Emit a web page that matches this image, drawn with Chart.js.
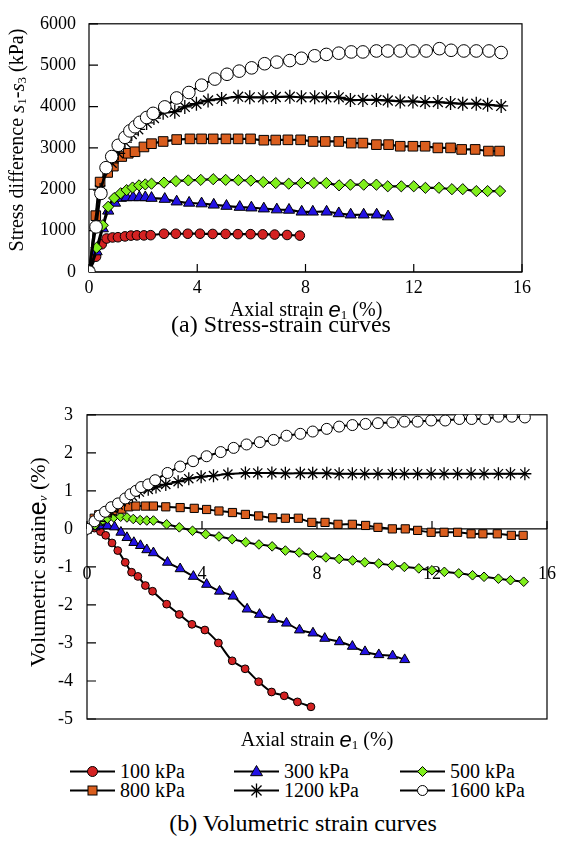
<!DOCTYPE html>
<html>
<head>
<meta charset="utf-8">
<script src="https://cdn.jsdelivr.net/npm/chart.js@4.4.1/dist/chart.umd.min.js"></script>
<style>
    body { margin: 0; background: #fff; }
    #wrap { position: relative; width: 561px; height: 841px; font-family: "Liberation Serif", "Times New Roman", serif; color: #000; }
    #chartA { position: absolute; left: 0; top: 0; }
    #chartB { position: absolute; left: 0; top: 390px; }
    .cap { position: absolute; font-size: 24px; white-space: nowrap; transform: translate(-50%, -50%); }
    .leg { position: absolute; font-size: 20px; display: flex; align-items: center; white-space: nowrap; transform: translateY(-50%); }
    .leg svg { margin-right: 5px; }
</style>
</head>
<body>
<div id="wrap">
    <canvas id="chartA" width="561" height="320"></canvas>
    <div class="cap" style="left:281px; top:324px;">(a) Stress-strain curves</div>
    <canvas id="chartB" width="561" height="360"></canvas>
    <div id="legend"></div>
    <div class="cap" style="left:303px; top:823px;">(b) Volumetric strain curves</div>
</div>
<script>
// Confining pressures
const seriesLabels = ['100 kPa', '300 kPa', '500 kPa', '800 kPa', '1200 kPa', '1600 kPa'];

// Axial strain (%) of each test
const x100 = [0, 0.26, 0.47, 0.65, 0.87, 1.07, 1.33, 1.55, 1.77, 2.03, 2.28, 2.77, 3.21, 3.65, 4.10, 4.57, 5.05, 5.50, 5.97, 6.42, 6.86, 7.32, 7.79];
const x300 = [0, 0.28, 0.51, 0.71, 0.96, 1.18, 1.39, 1.63, 1.86, 2.08, 2.31, 2.80, 3.24, 3.70, 4.16, 4.61, 5.08, 5.57, 6.00, 6.46, 6.94, 7.39, 7.86, 8.27, 8.78, 9.23, 9.67, 10.15, 10.63, 11.05];
const x500 = [0, 0.28, 0.51, 0.71, 0.93, 1.17, 1.39, 1.61, 1.85, 2.08, 2.31, 2.77, 3.21, 3.67, 4.13, 4.59, 5.05, 5.52, 5.98, 6.44, 6.90, 7.38, 7.85, 8.31, 8.77, 9.24, 9.66, 10.15, 10.62, 11.04, 11.54, 12.00, 12.43, 12.93, 13.41, 13.81, 14.31, 14.73, 15.19];
const x800 = [0, 0.25, 0.41, 0.69, 0.90, 1.21, 1.45, 1.70, 2.03, 2.31, 2.74, 3.24, 3.73, 4.16, 4.59, 5.06, 5.51, 5.97, 6.46, 6.90, 7.35, 7.82, 8.28, 8.73, 9.23, 9.69, 10.12, 10.62, 11.07, 11.50, 11.97, 12.42, 12.89, 13.36, 13.77, 14.27, 14.76, 15.17];
const x1200 = [0, 0.41, 0.84, 1.08, 1.33, 1.58, 1.82, 2.13, 2.40, 2.74, 3.17, 3.54, 3.97, 4.40, 4.90, 5.51, 5.94, 6.43, 6.90, 7.42, 7.85, 8.34, 8.77, 9.23, 9.66, 10.12, 10.62, 11.04, 11.50, 11.97, 12.42, 12.89, 13.36, 13.81, 14.31, 14.73, 15.23];
const x1600 = [0, 0.26, 0.44, 0.63, 0.84, 1.08, 1.33, 1.51, 1.70, 1.88, 2.13, 2.37, 2.80, 3.24, 3.69, 4.16, 4.65, 5.10, 5.55, 6.01, 6.49, 6.94, 7.42, 7.85, 8.34, 8.77, 9.23, 9.69, 10.12, 10.62, 11.04, 11.50, 11.97, 12.46, 12.95, 13.38, 13.85, 14.31, 14.78, 15.23];

// (a) stress difference (kPa)
const dev100 = [0, 370, 670, 810, 835, 840, 860, 880, 885, 885, 890, 925, 925, 925, 925, 920, 920, 915, 915, 910, 905, 895, 880];
const dev300 = [0, 494, 1051, 1478, 1670, 1787, 1803, 1803, 1803, 1803, 1787, 1763, 1700, 1670, 1654, 1624, 1594, 1570, 1555, 1531, 1508, 1500, 1455, 1455, 1455, 1415, 1385, 1385, 1385, 1340];
const dev500 = [0, 587, 1130, 1578, 1787, 1903, 1980, 2042, 2095, 2118, 2135, 2160, 2197, 2215, 2227, 2243, 2227, 2220, 2210, 2174, 2150, 2135, 2150, 2150, 2150, 2095, 2111, 2111, 2111, 2072, 2072, 2072, 2035, 2035, 2002, 2002, 1956, 1956, 1956];
const dev800 = [0, 1362, 2174, 2406, 2559, 2791, 2870, 2907, 3023, 3102, 3155, 3202, 3218, 3218, 3218, 3218, 3218, 3218, 3186, 3190, 3195, 3195, 3155, 3155, 3155, 3116, 3116, 3079, 3079, 3040, 3040, 3040, 3000, 3000, 2963, 2963, 2923, 2923];
const dev1200 = [0, 1980, 2638, 2870, 3139, 3334, 3450, 3604, 3720, 3852, 3875, 3991, 4068, 4146, 4184, 4239, 4223, 4223, 4230, 4239, 4223, 4223, 4223, 4223, 4160, 4160, 4160, 4146, 4123, 4123, 4107, 4107, 4084, 4068, 4068, 4044, 4014];
const dev1600 = [0, 1090, 1900, 2522, 2791, 3063, 3255, 3411, 3511, 3619, 3735, 3835, 3991, 4207, 4339, 4517, 4664, 4780, 4856, 4935, 5035, 5074, 5111, 5167, 5227, 5260, 5290, 5320, 5320, 5343, 5343, 5343, 5343, 5343, 5399, 5360, 5343, 5343, 5343, 5306];

// (b) volumetric strain (%)
const vol100 = [0, 0.02, -0.07, -0.17, -0.37, -0.57, -0.88, -1.14, -1.25, -1.49, -1.64, -1.98, -2.25, -2.51, -2.66, -3.00, -3.47, -3.68, -4.02, -4.29, -4.39, -4.55, -4.68];
const vol300 = [0, 0.05, 0.08, 0.08, 0.05, -0.09, -0.23, -0.36, -0.44, -0.55, -0.63, -0.88, -1.05, -1.25, -1.46, -1.64, -1.77, -2.11, -2.25, -2.38, -2.48, -2.66, -2.74, -2.88, -2.97, -3.09, -3.23, -3.31, -3.34, -3.44];
const vol500 = [0, 0.10, 0.20, 0.27, 0.30, 0.32, 0.30, 0.26, 0.23, 0.22, 0.22, 0.12, 0.04, -0.05, -0.14, -0.20, -0.27, -0.35, -0.41, -0.46, -0.57, -0.62, -0.70, -0.75, -0.79, -0.83, -0.88, -0.91, -0.96, -1.00, -1.04, -1.09, -1.13, -1.17, -1.22, -1.26, -1.31, -1.35, -1.39];
const vol800 = [0, 0.28, 0.37, 0.43, 0.48, 0.52, 0.58, 0.60, 0.60, 0.60, 0.58, 0.56, 0.54, 0.51, 0.47, 0.43, 0.38, 0.34, 0.29, 0.28, 0.28, 0.17, 0.17, 0.12, 0.12, 0.09, 0.04, 0, 0, -0.04, -0.09, -0.09, -0.09, -0.13, -0.13, -0.13, -0.17, -0.17];
const vol1200 = [0, 0.20, 0.45, 0.63, 0.76, 0.86, 0.97, 1.04, 1.10, 1.17, 1.24, 1.32, 1.37, 1.40, 1.44, 1.47, 1.47, 1.47, 1.46, 1.46, 1.46, 1.46, 1.45, 1.45, 1.45, 1.45, 1.45, 1.45, 1.45, 1.45, 1.45, 1.45, 1.45, 1.45, 1.45, 1.45, 1.45];
const vol1600 = [0, 0.20, 0.35, 0.45, 0.57, 0.67, 0.80, 0.91, 1.00, 1.10, 1.17, 1.28, 1.47, 1.64, 1.78, 1.91, 2.02, 2.13, 2.22, 2.28, 2.34, 2.45, 2.50, 2.56, 2.63, 2.69, 2.73, 2.76, 2.78, 2.80, 2.82, 2.82, 2.85, 2.85, 2.89, 2.89, 2.89, 2.95, 2.95, 2.93];

// Axis ticks
const strainTicks = [0, 4, 8, 12, 16];
const stressTicks = [0, 1000, 2000, 3000, 4000, 5000, 6000];
const volTicks = [-5, -4, -3, -2, -1, 0, 1, 2, 3];

const xSets = [x100, x300, x500, x800, x1200, x1600];
const devSets = [dev100, dev300, dev500, dev800, dev1200, dev1600];
const volSets = [vol100, vol300, vol500, vol800, vol1200, vol1600];

const markerFill = ['#d42222', '#2312e4', '#80ef1c', '#da5e1e', '#000000', '#ffffff'];
const markerStyle = ['circle', 'triangle', 'rectRot', 'rect', 'star', 'circle'];
const radiusA = [4.8, 6.5, 5.6, 6.8, 7, 6.3];
const radiusB = [3.9, 5.8, 4.8, 5.8, 6.5, 5.5];

const SERIF = '"Liberation Serif", "Times New Roman", serif';
const SANS = '"Liberation Sans", Arial, sans-serif';

function buildDatasets(ySets, radii, lineW) {
    return seriesLabels.map((label, i) => ({
        label: label,
        data: xSets[i].map((x, k) => ({ x: x, y: ySets[i][k] })),
        borderColor: '#000',
        borderWidth: lineW,
        tension: 0.3,
        pointStyle: markerStyle[i],
        pointRadius: radii[i],
        pointBackgroundColor: markerFill[i],
        pointBorderColor: '#000',
        pointBorderWidth: markerStyle[i] === 'star' ? 1.3 : 1,
        order: 6 - i
    }));
}

// text with italics / subscripts, centred on (cx, cy)
function drawRich(ctx, parts, cx, cy, rotate) {
    ctx.save();
    ctx.translate(cx, cy);
    if (rotate) ctx.rotate(-Math.PI / 2);
    let w = 0;
    parts.forEach(p => { ctx.font = p.font; w += ctx.measureText(p.text).width; });
    let x = -w / 2;
    ctx.textBaseline = 'middle';
    ctx.textAlign = 'left';
    ctx.fillStyle = '#000';
    parts.forEach(p => {
        ctx.font = p.font;
        ctx.fillText(p.text, x, p.dy || 0);
        x += ctx.measureText(p.text).width;
    });
    ctx.restore();
}

// box, inward tick marks and axis titles
const framePlugin = {
    id: 'frame',
    beforeDatasetsDraw(chart, args, opts) {
        const { ctx, chartArea: a, scales: { x, y } } = chart;
        ctx.save();
        ctx.strokeStyle = '#000';
        ctx.lineWidth = 1.2;
        ctx.strokeRect(a.left, a.top, a.right - a.left, a.bottom - a.top);
        const y0 = y.getPixelForValue(opts.xAxisAt);
        ctx.beginPath();
        ctx.moveTo(a.left, y0);
        ctx.lineTo(a.right, y0);
        x.ticks.forEach(t => {
            const px = x.getPixelForValue(t.value);
            ctx.moveTo(px, y0);
            ctx.lineTo(px, y0 - 8);
        });
        y.ticks.forEach(t => {
            const py = y.getPixelForValue(t.value);
            ctx.moveTo(a.left, py);
            ctx.lineTo(a.left + 9, py);
        });
        ctx.stroke();
        drawRich(ctx, opts.xTitle, opts.xTitlePos[0], opts.xTitlePos[1], false);
        drawRich(ctx, opts.yTitle, opts.yTitlePos[0], opts.yTitlePos[1], true);
        ctx.restore();
    }
};

const strainTitle = [
    { text: 'Axial strain ', font: '20px ' + SERIF },
    { text: 'e', font: 'italic 22px ' + SANS },
    { text: '1', font: '13px ' + SERIF, dy: 5 },
    { text: ' (%)', font: '20px ' + SERIF }
];

function scaleOpts(min, max, ticks, padding, fit) {
    return {
        type: 'linear',
        min: min,
        max: max,
        afterBuildTicks: s => { s.ticks = ticks.map(v => ({ value: v })); },
        ticks: {
            padding: padding,
            color: '#000',
            maxRotation: 0,
            font: { family: SERIF, size: 18 },
            callback: v => String(v)
        },
        grid: { display: false, drawTicks: false },
        border: { display: false },
        afterFit: fit
    };
}

// (a) stress-strain
new Chart(document.getElementById('chartA'), {
    type: 'line',
    data: { datasets: buildDatasets(devSets, radiusA, 2.2) },
    options: {
        responsive: false,
        animation: false,
        layout: { padding: { left: 0, right: 39, top: 13, bottom: 0 } },
        plugins: {
            legend: { display: false },
            tooltip: { enabled: false },
            frame: {
                xAxisAt: 0,
                xTitle: strainTitle,
                xTitlePos: [306, 311],
                yTitle: [
                    { text: 'Stress difference ', font: '20px ' + SERIF },
                    { text: 's', font: 'italic 21px ' + SERIF },
                    { text: '1', font: '13px ' + SERIF, dy: 5 },
                    { text: '-', font: '20px ' + SERIF },
                    { text: 's', font: 'italic 21px ' + SERIF },
                    { text: '3', font: '13px ' + SERIF, dy: 5 },
                    { text: ' (kPa)', font: '20px ' + SERIF }
                ],
                yTitlePos: [18, 140]
            }
        },
        scales: {
            x: scaleOpts(0, 16, strainTicks, 5, s => { s.height = 48; }),
            y: scaleOpts(0, 6000, stressTicks, 13, s => { s.width = 89; })
        }
    },
    plugins: [framePlugin]
});

// (b) volumetric strain; x axis sits on the zero line, labels pushed below
const optsBx = scaleOpts(0, 16, strainTicks, 35, s => {
    s.height = 0;
    s.paddingLeft = 5;
    s.paddingRight = 10;
});
optsBx.position = { y: 0 };
new Chart(document.getElementById('chartB'), {
    type: 'line',
    data: { datasets: buildDatasets(volSets, radiusB, 2) },
    options: {
        responsive: false,
        animation: false,
        layout: { padding: { left: 0, right: 14, top: 24, bottom: 31 } },
        plugins: {
            legend: { display: false },
            tooltip: { enabled: false },
            frame: {
                xAxisAt: 0,
                xTitle: strainTitle,
                xTitlePos: [317, 351],
                yTitle: [
                    { text: 'Volumetric strain', font: '22px ' + SERIF },
                    { text: 'e', font: '25px ' + SANS },
                    { text: 'v', font: 'italic 13px ' + SERIF, dy: 5 },
                    { text: ' (%)', font: '22px ' + SERIF }
                ],
                yTitlePos: [39, 172]
            }
        },
        scales: {
            x: optsBx,
            y: scaleOpts(-5, 3, volTicks, 14, s => { s.width = 87; })
        }
    },
    plugins: [framePlugin]
});

// legend: line sample with marker, three columns, two rows
function markerSvg(style, fill, cx, cy, r) {
    const st = 'fill="' + fill + '" stroke="#000" stroke-width="1"';
    if (style === 'circle') return '<circle cx="' + cx + '" cy="' + cy + '" r="' + r + '" ' + st + '/>';
    if (style === 'rect') return '<rect x="' + (cx - r) + '" y="' + (cy - r) + '" width="' + 2 * r + '" height="' + 2 * r + '" ' + st + '/>';
    if (style === 'rectRot') return '<polygon points="' + cx + ',' + (cy - r) + ' ' + (cx + r) + ',' + cy + ' ' + cx + ',' + (cy + r) + ' ' + (cx - r) + ',' + cy + '" ' + st + '/>';
    if (style === 'triangle') return '<polygon points="' + cx + ',' + (cy - r) + ' ' + (cx + r) + ',' + (cy + r * 0.7) + ' ' + (cx - r) + ',' + (cy + r * 0.7) + '" ' + st + '/>';
    const d = r * 0.72;
    return '<path d="M' + cx + ' ' + (cy - r) + 'V' + (cy + r) + 'M' + (cx - d) + ' ' + (cy - d) + 'L' + (cx + d) + ' ' + (cy + d) +
        'M' + (cx - d) + ' ' + (cy + d) + 'L' + (cx + d) + ' ' + (cy - d) + '" stroke="#000" stroke-width="1.3" fill="none"/>';
}

const legendCols = [70, 234, 400];
const legendRows = [771, 790];
const legendSizes = [5, 6, 5, 4.5, 7, 5];
const legendEl = document.getElementById('legend');
seriesLabels.forEach((label, i) => {
    const item = document.createElement('div');
    item.className = 'leg';
    item.style.left = legendCols[i % 3] + 'px';
    item.style.top = legendRows[Math.floor(i / 3)] + 'px';
    item.innerHTML = '<svg width="45" height="18"><line x1="0" y1="9" x2="45" y2="9" stroke="#000" stroke-width="2.2"/>' +
        markerSvg(markerStyle[i], markerFill[i], 22.5, 9, legendSizes[i]) + '</svg><span>' + label + '</span>';
    legendEl.appendChild(item);
});
</script>
</body>
</html>
